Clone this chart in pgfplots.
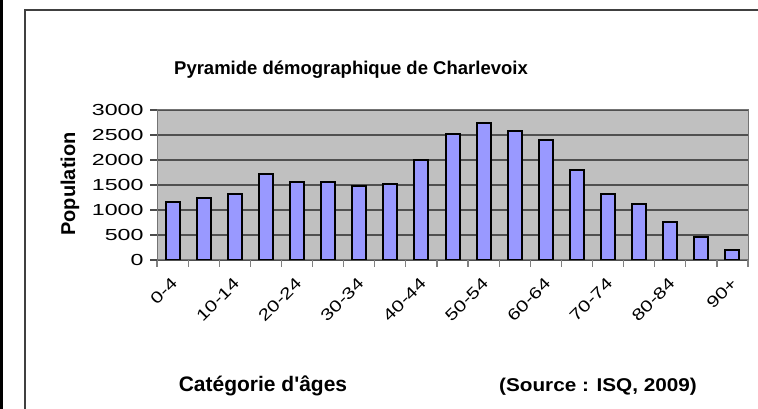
\documentclass[border=0pt]{standalone}
\usepackage{graphicx}
\usepackage{fontspec}
\setmainfont{Liberation Sans}
\newfontfamily\tickfont[FakeStretch=1.45]{Liberation Sans}
\newfontfamily\xtickfont[FakeStretch=1.3]{Liberation Sans}
\usepackage{pgfplots}
\pgfplotsset{compat=1.18}
\definecolor{barblue}{RGB}{153,153,255}
\definecolor{plotgray}{RGB}{192,192,192}
\definecolor{gridgray}{RGB}{80,80,80}
\definecolor{framegray}{RGB}{64,64,64}

\begin{document}
\begin{tikzpicture}[x=1pt,y=1pt]
\path[use as bounding box] (0,0) rectangle (758,409);
\fill[black] (0,0) rectangle (2.5,409);
\draw[framegray, line width=2pt] (25,-2) -- (25,399) -- (760,399);
\begin{axis}[
  at={(157pt,149pt)}, anchor=south west,
  scale only axis, width=591pt, height=150pt,
  xmin=-0.5, xmax=18.5, ymin=0, ymax=3000,
  ybar, bar width=0.45,
  axis background/.style={fill=plotgray},
  axis line style={draw=black!55, line width=1pt},
  ymajorgrids, major grid style={draw=gridgray, line width=1.4pt},
  ytick={0,500,...,3000},
  xtick={0,2,...,18},
  xticklabels={0-4,10-14,20-24,30-34,40-44,50-54,60-64,70-74,80-84,90+},
  minor xtick={-0.5,0.5,...,18.5},
  tick align=outside, xtick pos=bottom, ytick pos=left,
  major x tick style={draw=none},
  minor x tick style={draw=black!50, line width=1.2pt},
  major y tick style={draw=black!70, line width=1.2pt},
  major tick length=7pt, minor tick length=7pt,
  yticklabel style={font=\tickfont\fontsize{16}{16}\selectfont, xshift=-3pt,
    /pgf/number format/.cd, 1000 sep={}, assume math mode=true},
  xticklabel style={font=\xtickfont\fontsize{16}{16}\selectfont,
    rotate=45, anchor=east, xshift=-5pt, yshift=-11pt},
]
\addplot[fill=barblue, draw=black, line width=2pt] coordinates {
  (0,1155) (1,1235) (2,1314) (3,1719) (4,1560) (5,1560) (6,1473)
  (7,1520) (8,1991) (9,2515) (10,2748) (11,2588) (12,2396) (13,1799)
  (14,1314) (15,1122) (16,763) (17,451) (18,206)
};
\end{axis}
\node[font=\bfseries\fontsize{18.5}{20}\selectfont, anchor=base] at (351,334)
  {Pyramide démographique de Charlevoix};
\node[font=\bfseries\fontsize{20}{22}\selectfont, rotate=90, anchor=base] at (75,225)
  {Population};
\node[font=\bfseries\fontsize{21}{23}\selectfont, anchor=base] at (263,17)
  {Catégorie d\textquotesingle âges};
\node[font=\bfseries\fontsize{18.5}{20}\selectfont, anchor=base] at (598,17)
  {\scalebox{1.12}[1]{(Source : ISQ, 2009)}};
\end{tikzpicture}
\end{document}
